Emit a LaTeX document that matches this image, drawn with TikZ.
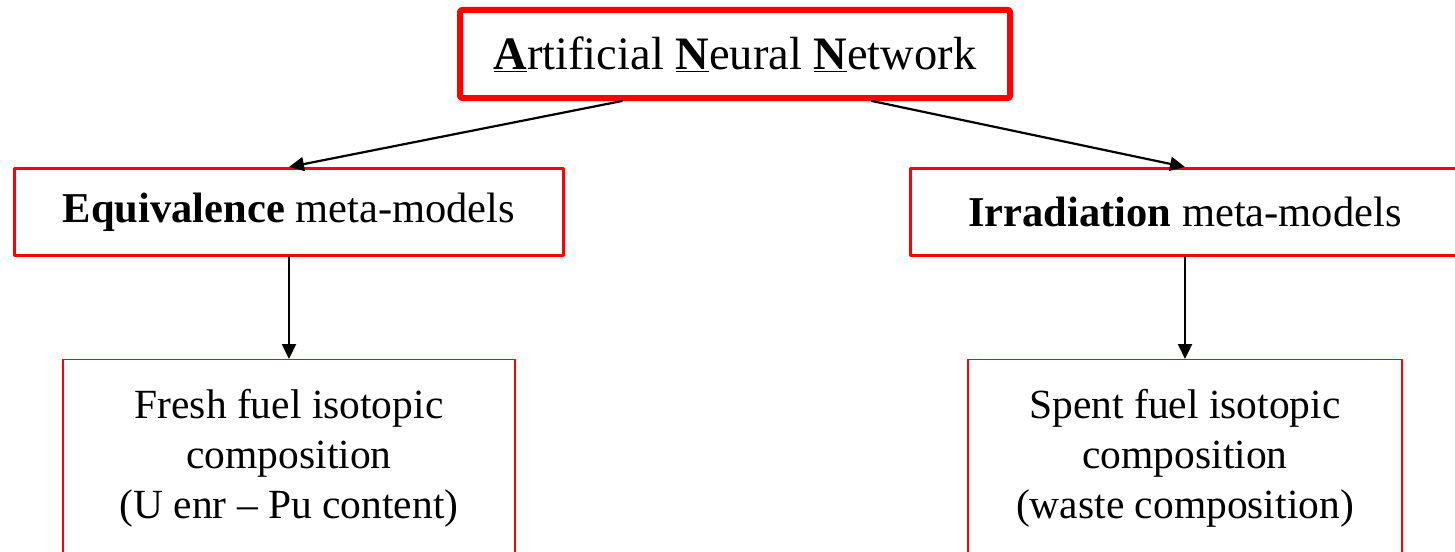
\documentclass[tikz,border=0pt]{standalone}
\usepackage{fontspec}
\setmainfont{Liberation Serif}
\usetikzlibrary{arrows.meta}
\newcommand\ul[1]{\underline{\textbf{#1}}}
\begin{document}
\begin{tikzpicture}[x=1pt,y=-1pt,line cap=round,line join=round,
    mbox/.style={draw=red,line width=3pt,minimum width=549pt,minimum height=87pt,font=\fontsize{42.5}{50}\selectfont},
    rbox/.style={draw=red,line width=1.4pt,minimum width=452pt,inner ysep=30pt,anchor=north,align=center,font=\fontsize{41.5}{50}\selectfont},
    arr/.style={line width=2.2pt,-{Triangle[length=15pt,width=14pt]}}]
  \useasboundingbox (0,0) rectangle (1455,551);

  \node[draw=red,line width=6pt,rounded corners=2pt,minimum width=550pt,minimum height=88pt,
        font=\fontsize{46.5}{54}\selectfont] (ann) at (735,54)
        {\ul{A}rtificial \ul{N}eural \ul{N}etwork};

  \node[mbox] (eq) at (289,212) {\textbf{Equivalence} meta-models};
  \node[mbox] (ir) at (1185,212) {\textbf{Irradiation} meta-models};

  \node[rbox] (fr) at (289,359) {Fresh fuel isotopic\\composition\\(U enr -- Pu content)};
  \node[rbox,minimum width=434pt] (sp) at (1185,359) {Spent fuel isotopic\\composition\\(waste composition)};

  \draw[arr] ([xshift=-113pt]ann.south) -- (eq.north);
  \draw[arr] ([xshift=137pt]ann.south) -- (ir.north);
  \draw[arr] (eq.south) -- (fr.north);
  \draw[arr] (ir.south) -- (sp.north);
\end{tikzpicture}
\end{document}
